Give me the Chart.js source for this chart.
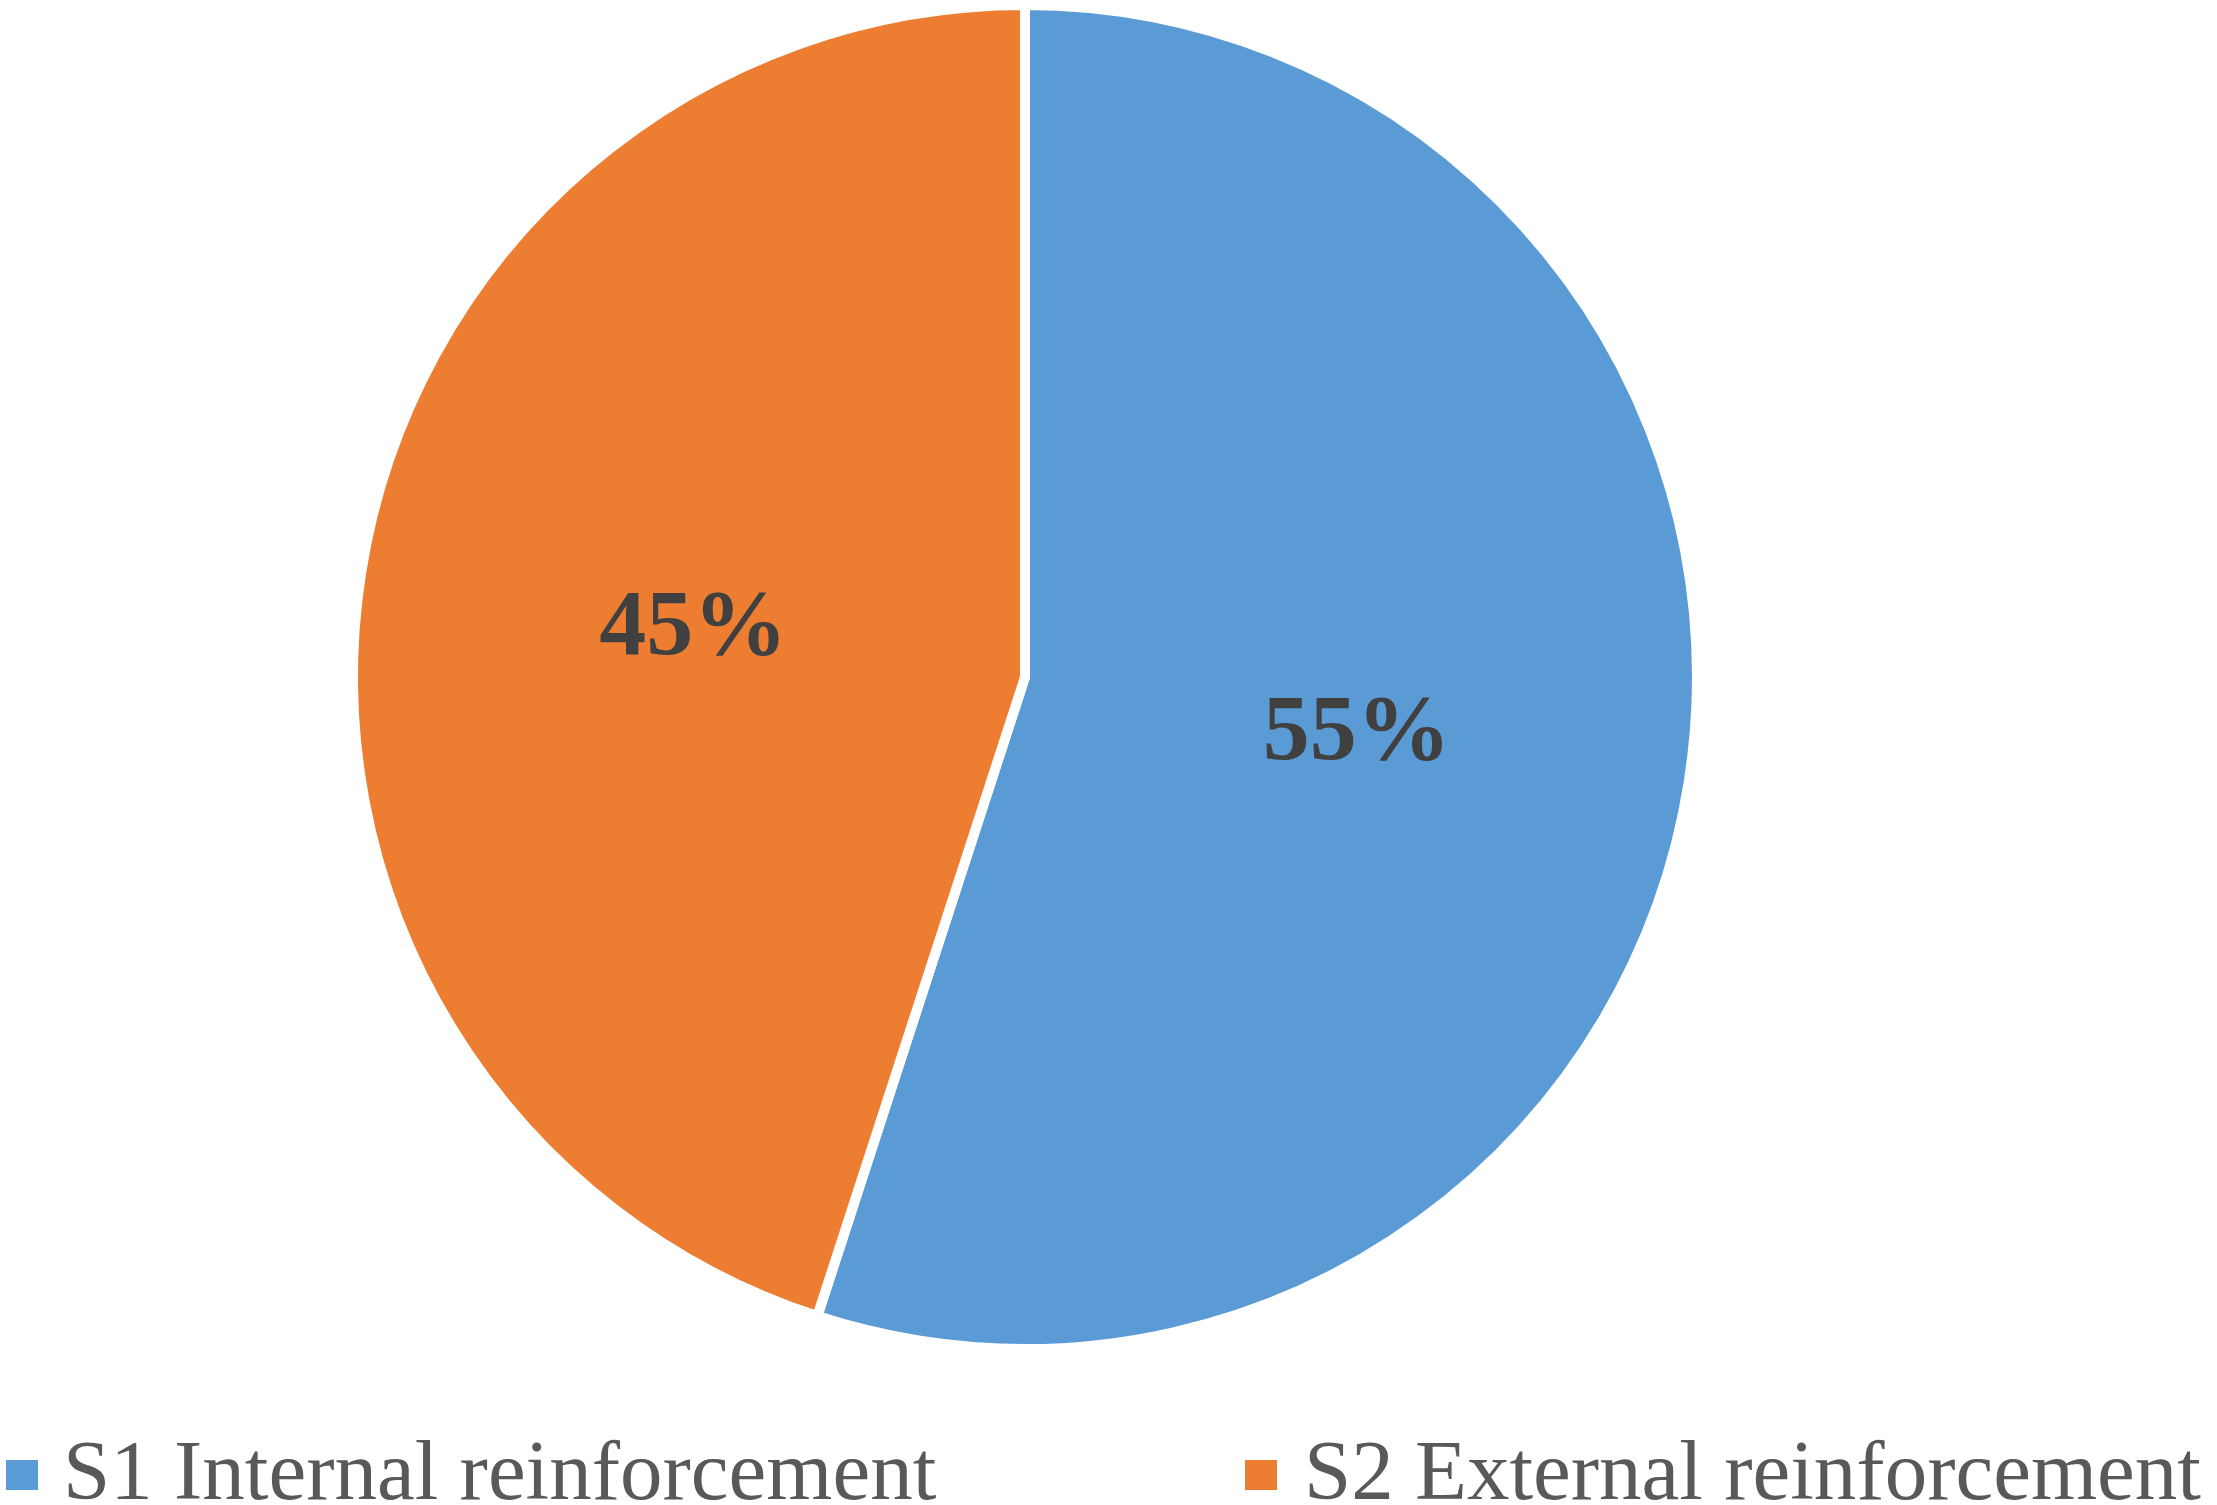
<!DOCTYPE html>
<html>
<head>
<meta charset="utf-8">
<script src="https://cdn.jsdelivr.net/npm/chart.js@4/dist/chart.umd.min.js"></script>
<style>
  html, body { margin: 0; padding: 0; background: #ffffff; }
  #wrap { width: 2217px; height: 1505px; position: relative; }
</style>
</head>
<body>
<div id="wrap"><canvas id="c" width="2217" height="1505"></canvas></div>
<script>
const categories = ['S1 Internal reinforcement', 'S2 External reinforcement'];
const shares = [55, 45];
const colors = ['#5B9BD5', '#ED7D31'];

const sliceLabels = {
  id: 'sliceLabels',
  afterDatasetsDraw(chart) {
    const ctx = chart.ctx;
    const meta = chart.getDatasetMeta(0);
    const data = chart.data.datasets[0].data;
    ctx.save();
    ctx.font = 'bold 94px "Liberation Serif", "Times New Roman", serif';
    ctx.fillStyle = '#404040';
    ctx.textAlign = 'center';
    ctx.textBaseline = 'middle';
    meta.data.forEach((arc, i) => {
      const p = arc.tooltipPosition();
      ctx.fillText(data[i] + '%', p.x, p.y + 5);
    });
    ctx.restore();
  }
};

const bottomLegend = {
  id: 'bottomLegend',
  afterDraw(chart) {
    const ctx = chart.ctx;
    const ds = chart.data.datasets[0];
    const items = [
      { box: 6, text: 63 },
      { box: 1245, text: 1304 }
    ];
    ctx.save();
    ctx.font = '85px "Liberation Serif", "Times New Roman", serif';
    ctx.textAlign = 'left';
    ctx.textBaseline = 'alphabetic';
    chart.data.labels.forEach((lab, i) => {
      ctx.fillStyle = ds.backgroundColor[i];
      ctx.fillRect(items[i].box, 1460, 32, 30);
      ctx.fillStyle = '#595959';
      ctx.fillText(lab, items[i].text, 1499);
    });
    ctx.restore();
  }
};

new Chart(document.getElementById('c'), {
  type: 'pie',
  data: {
    labels: categories,
    datasets: [{
      data: shares,
      backgroundColor: colors,
      borderColor: '#ffffff',
      borderWidth: 10
    }]
  },
  options: {
    responsive: false,
    animation: false,
    events: [],
    layout: { padding: { top: -5, bottom: 151, left: 0, right: 167 } },
    plugins: {
      legend: { display: false },
      tooltip: { enabled: false }
    }
  },
  plugins: [sliceLabels, bottomLegend]
});
</script>
</body>
</html>
